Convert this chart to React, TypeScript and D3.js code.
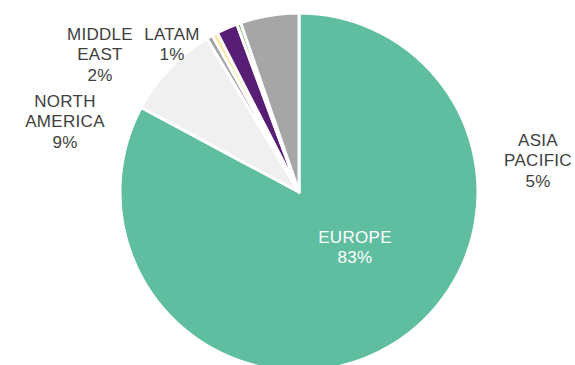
import React from "react";
import * as d3 from "d3";

const categories = ["EUROPE", "NORTH AMERICA", "LATAM", "OTHER 1", "MIDDLE EAST", "OTHER 2", "ASIA PACIFIC"];
const values = [82.8, 8.56, 0.56, 0.5, 1.9, 0.36, 5.28];
const labelText = ["83%", "9%", "1%", "", "2%", "", "5%"];
const colors = ["#5fbda0", "#f0f0f0", "#a5a5a5", "#ffe699", "#581d74", "#70ad47", "#a6a6a6"];

// label layout (first-line baseline positions in px), keyed by category
const labelLayout: Record<string, { x: number; y: number; lines: string[]; fill: string }> = {
  "EUROPE": { x: 355, y: 243, lines: ["EUROPE"], fill: "#ffffff" },
  "NORTH AMERICA": { x: 65, y: 107, lines: ["NORTH", "AMERICA"], fill: "#404040" },
  "LATAM": { x: 172, y: 40, lines: ["LATAM"], fill: "#404040" },
  "MIDDLE EAST": { x: 100, y: 40, lines: ["MIDDLE", "EAST"], fill: "#404040" },
  "ASIA PACIFIC": { x: 538, y: 146, lines: ["ASIA", "PACIFIC"], fill: "#404040" },
};

const W = 575, H = 365;
const cx = 299, cy = 192, R = 179;

export default function App() {
  const pie = d3.pie<number>().sort(null).value((d) => d);
  const arcs = pie(values);
  const arc = d3.arc<d3.PieArcDatum<number>>().innerRadius(0).outerRadius(R);
  return (
    <svg width={W} height={H} style={{ position: "absolute", left: 0, top: 0 }} fontFamily="'Liberation Sans', Arial, sans-serif">
      <rect width={W} height={H} fill="#ffffff" />
      <g transform={`translate(${cx},${cy})`}>
        {arcs.map((a, i) => (
          <path key={i} d={arc(a) || ""} fill={colors[i]} stroke="#ffffff" strokeWidth={3} strokeLinejoin="round" />
        ))}
      </g>
      {categories.map((c, i) => {
        const L = labelLayout[c];
        if (!L) return null;
        const lines = [...L.lines, labelText[i]];
        return (
          <text key={c} x={L.x} y={L.y} textAnchor="middle" fontSize={17} letterSpacing={0.3} fill={L.fill}>
            {lines.map((t, j) => (
              <tspan key={j} x={L.x} y={L.y + j * 20.3}>{t}</tspan>
            ))}
          </text>
        );
      })}
    </svg>
  );
}
